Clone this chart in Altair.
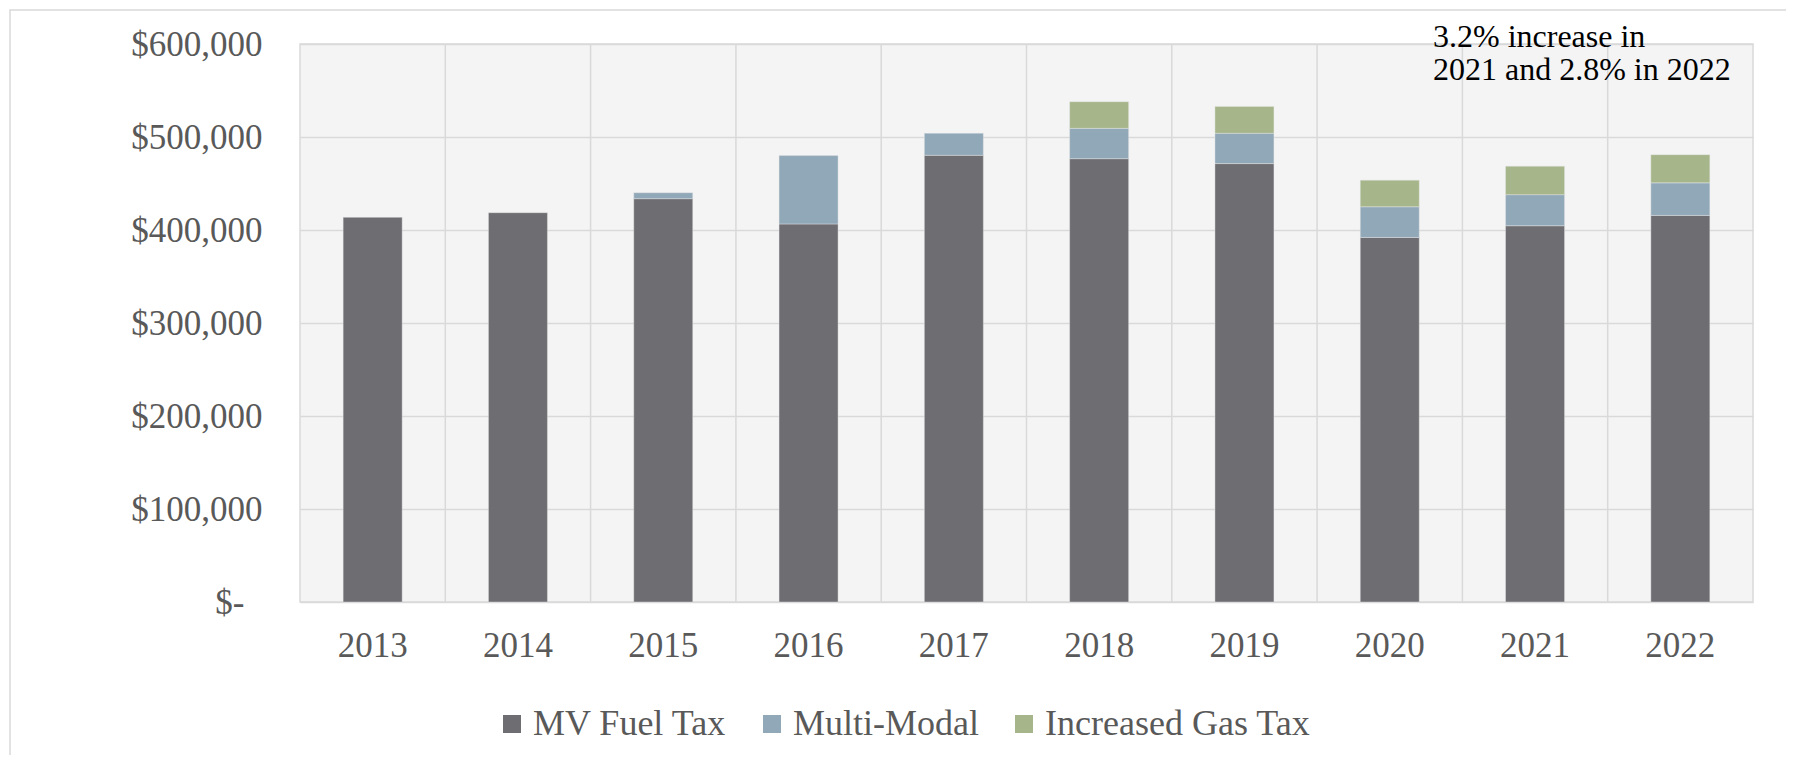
import altair as alt
import pandas as pd

# ---- data ----
years = ["2013", "2014", "2015", "2016", "2017", "2018", "2019", "2020", "2021", "2022"]
mv_fuel_tax = [413600, 418600, 433700, 406500, 480300, 476700, 471400, 392000, 404600, 415700]
multi_modal = [0, 0, 6400, 73500, 23700, 32600, 32600, 33000, 33400, 35000]
increased_gas_tax = [0, 0, 0, 0, 0, 28700, 28900, 28600, 30600, 30300]
series_names = ["MV Fuel Tax", "Multi-Modal", "Increased Gas Tax"]
series_colors = ["#6E6D72", "#91A8B8", "#A6B68A"]
y_ticks = [0, 100000, 200000, 300000, 400000, 500000, 600000]
note_lines = ["3.2% increase in", "2021 and 2.8% in 2022"]

rows = []
for i, yr in enumerate(years):
    for k, (name, vals) in enumerate(zip(series_names, [mv_fuel_tax, multi_modal, increased_gas_tax])):
        if vals[i] > 0:
            rows.append({"year": yr, "series": name, "k": k, "value": vals[i]})
df = pd.DataFrame(rows)
grid_df = pd.DataFrame({"year": years[1:]})
one = pd.DataFrame({"a": [0]})

FONT = "Liberation Serif"
LABEL = "#595959"
GRID = "#D9D9D9"
W, H = 1453, 558

xscale = alt.Scale(domain=years, paddingInner=0, paddingOuter=0)
xaxis = alt.Axis(title=None, labelAngle=0, labelFont=FONT, labelFontSize=35,
                 labelColor=LABEL, labelPadding=26, ticks=False, domain=False, grid=False)

vgrid = alt.Chart(grid_df).mark_rule(color=GRID, strokeWidth=1.5).encode(
    x=alt.X("year:N", scale=xscale, sort=years, bandPosition=0, axis=xaxis)
)

bars = alt.Chart(df).mark_bar(size=59, stroke="#E6E6E6", strokeWidth=0.6, strokeOpacity=0.7).encode(
    x=alt.X("year:N", scale=xscale, sort=years, axis=xaxis),
    y=alt.Y(
        "value:Q", stack="zero",
        scale=alt.Scale(domain=[0, 600000], nice=False),
        axis=alt.Axis(title=None, values=y_ticks,
                      labelExpr="datum.value == 0 ? '$-' : '$' + format(datum.value, ',')",
                      grid=True, gridColor=GRID, gridWidth=1.5, ticks=False, domain=False,
                      labelPadding={"condition": {"test": "datum.value == 0", "value": 56}, "value": 38},
                      labelFont=FONT, labelFontSize=35, labelColor=LABEL),
    ),
    color=alt.Color(
        "series:N",
        scale=alt.Scale(domain=series_names, range=series_colors),
        legend=alt.Legend(title=None, orient="none", legendX=194, legendY=662,
                          direction="horizontal", symbolType="square", symbolSize=324,
                          symbolStrokeWidth=0, labelFont=FONT, labelFontSize=36,
                          labelLimit=0, labelColor=LABEL, columnPadding=27,
                          labelOffset=3, padding=0),
    ),
    order=alt.Order("k:Q"),
)

note = alt.Chart(one).mark_text(
    text=note_lines, align="left", baseline="alphabetic", font=FONT, fontSize=32,
    color="#000000", lineHeight=33,
).encode(x=alt.value(1133), y=alt.value(3))

frame = alt.Chart(one).mark_rect(filled=False, stroke=GRID, strokeWidth=1.5).encode(
    x=alt.value(-290), x2=alt.value(1700), y=alt.value(-34), y2=alt.value(900)
)

chart = alt.layer(frame, vgrid, bars, note).properties(
    width=W, height=H, autosize="none",
    padding={"left": 292, "top": 36, "right": 33, "bottom": 153},
    background="#FFFFFF",
).configure_view(stroke=GRID, strokeWidth=1.5, fill="#F4F4F4"
).configure_text(font=FONT)

chart.save("out.html", embed_options={"renderer": "svg", "actions": False})
